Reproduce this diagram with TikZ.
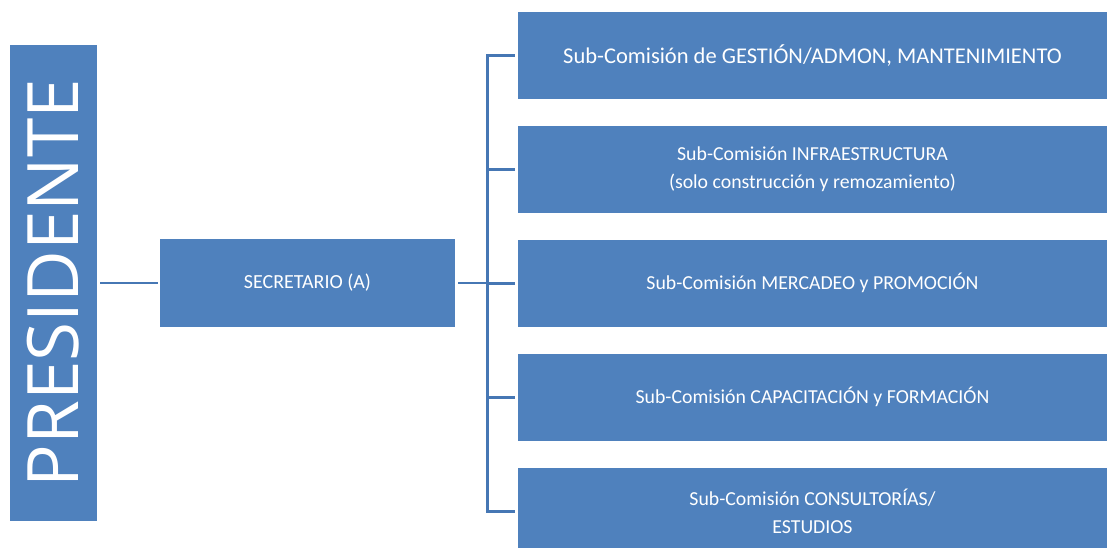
\documentclass[tikz,border=0pt]{standalone}
\usepackage{fontspec}
\setmainfont{Carlito}
\newfontfamily\presfont{Open Sans}
\usepackage{xcolor}
\usetikzlibrary{positioning}
\definecolor{boxblue}{HTML}{4F81BD}
\definecolor{linkblue}{HTML}{4677B4}

\begin{document}
\begin{tikzpicture}[
  x=1pt, y=-1pt,
  orgbox/.style={
    rectangle, fill=boxblue, draw=none,
    text=white, align=center, inner sep=0pt,
  },
  subbox/.style={
    orgbox,
    minimum width=589pt, minimum height=87pt,
    font=\fontsize{19.8}{28}\selectfont,
  },
  link/.style={draw=linkblue, line width=2.8pt},
  node distance=26.5pt and 0pt,
]
\useasboundingbox (0,0) rectangle (1108,547);

\node[orgbox, minimum width=87pt, minimum height=476pt] (pres) at (53.5,283) {};
\node[rotate=90, text=white, font=\presfont\fontsize{71}{71}\selectfont] (prestext) at (pres.center) {PRESIDENTE};

\node[orgbox, minimum width=295pt, minimum height=88pt,
  font=\fontsize{20}{24}\selectfont] (sec) at (307.5,283) {SECRETARIO (A)};

\node[subbox, font=\fontsize{22.5}{26}\selectfont] (gestion) at (812.5,55.5)
  {Sub-Comisión de GESTIÓN/ADMON, MANTENIMIENTO};
\node[subbox, below=of gestion] (infra)
  {Sub-Comisión INFRAESTRUCTURA\\(solo construcción y remozamiento)};
\node[subbox, below=of infra] (mercadeo)
  {Sub-Comisión MERCADEO y PROMOCIÓN};
\node[subbox, below=of mercadeo] (capacit)
  {Sub-Comisión CAPACITACIÓN y FORMACIÓN};
\node[subbox, below=of capacit] (consult)
  {Sub-Comisión CONSULTORÍAS/\\ESTUDIOS};

% connectors
\draw[link, shorten <=3pt, shorten >=2pt] (pres.east) -- (sec.west);
\draw[link, shorten <=3pt] (sec.east) -- ++(32,0) coordinate (bus);
\draw[link, shorten <=3pt, shorten >=3pt] (gestion.west) -| (bus) |- (consult.west);
\foreach \sub in {infra, mercadeo, capacit}
  \draw[link, shorten >=3pt] (bus |- \sub.west) -- (\sub.west);
\end{tikzpicture}
\end{document}
